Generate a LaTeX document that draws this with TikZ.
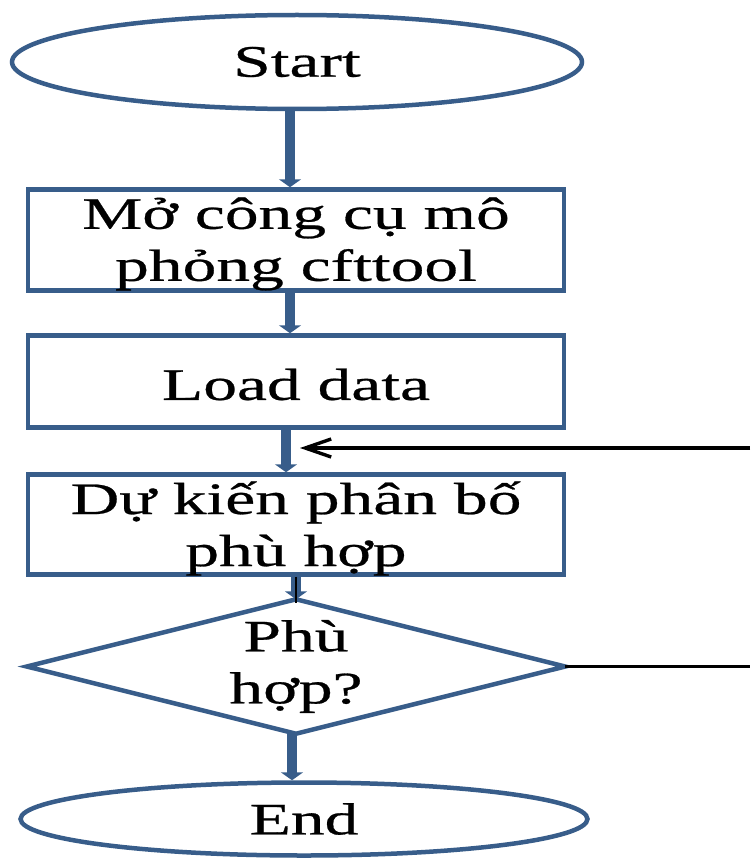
\documentclass[tikz,border=0pt]{standalone}
\usepackage{fontspec}
\usetikzlibrary{shapes.geometric,arrows.meta}
\newfontfamily\flowfont[FakeStretch=1.5,FakeBold=0.6]{Liberation Serif}
\definecolor{flowblue}{RGB}{56,93,138}
\tikzset{
  txt/.style={font=\flowfont\fontsize{45}{52}\selectfont, align=center, text=black, inner sep=0pt},
  term/.style={txt, ellipse, draw=flowblue, line width=4.5pt},
  procbox/.style={rectangle, draw=flowblue, line width=4.5pt, minimum width=536pt},
  decide/.style={txt, rectangle, minimum width=538pt, minimum height=134pt},
  decideline/.style={draw=flowblue, line width=4.5pt, line join=miter},
  flow/.style={draw=flowblue, line width=9.5pt, -{Triangle[width=22pt,length=8pt]}},
  back/.style={draw=black, line width=3.4pt},
}
\begin{document}
\begin{tikzpicture}[x=1pt,y=-1pt]
\useasboundingbox (0,0) rectangle (750,864);
\node[term, minimum width=570pt, minimum height=94pt] (start) at (297,62) {Start};
\node[procbox, minimum height=101pt] (box1) at (296,240) {};
\node[txt] (box1text) at ([yshift=-4pt]box1.center) {Mở công cụ mô\\phỏng cfttool};
\node[procbox, minimum height=92pt] (box2) at (296,381.5) {};
\node[txt] (box2text) at ([yshift=-3pt]box2.center) {Load data};
\node[procbox, minimum height=100pt] (box3) at (296,524.5) {};
\node[txt] (box3text) at ([yshift=-4pt]box3.center) {Dự kiến phân bố\\phù hợp};
\node[decide] (dia) at (296,666.5) {Phù\\hợp?};
\draw[decideline] (dia.north) -- (dia.east) -- (dia.south) -- (dia.west) -- cycle;
\node[term, minimum width=567pt, minimum height=73pt] (end) at (304,819) {End};
\coordinate (r1) at (750,448);
\coordinate (r2) at (750,666.5);
\draw[flow] ([xshift=-7pt]start.south) -- ([xshift=-6pt]box1.north);
\draw[flow] ([xshift=-6pt]box1.south) -- ([xshift=-6pt]box2.north);
\draw[flow] ([xshift=-10pt]box2.south) -- ([xshift=-10pt]box3.north);
\draw[flow] (box3.south) -- (dia.north);
\draw[black, line width=1.2pt] (box3.south) -- ([yshift=-4pt]dia.north);
\draw[flow] ([xshift=-4pt]dia.south) -- ([xshift=-12pt]end.north);
\draw[back, -{Straight Barb[length=26pt,width=18pt]}] (r1) -- ([xshift=4pt]box2.south |- r1);
\draw[back] (dia.east) -- (r2);
\end{tikzpicture}
\end{document}
